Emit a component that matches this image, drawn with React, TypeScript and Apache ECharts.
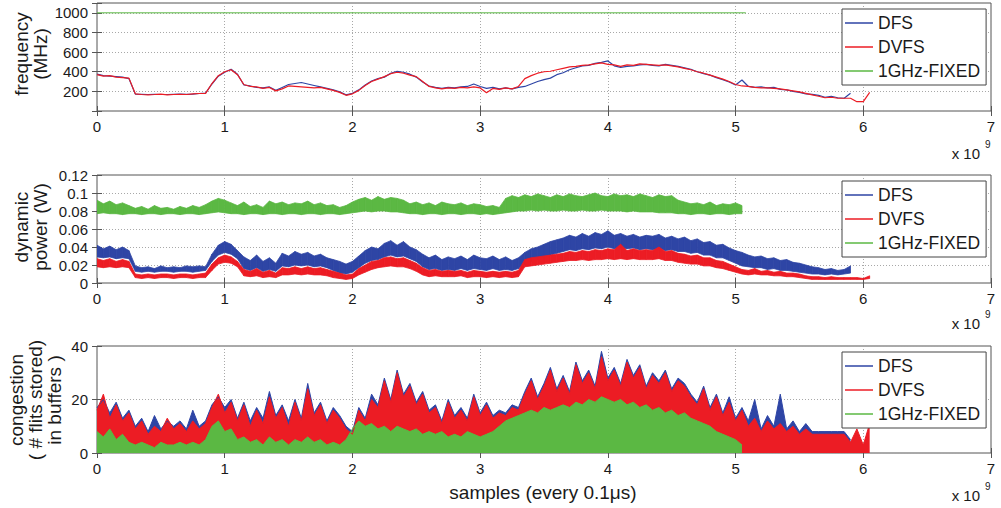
import React, { useEffect, useRef } from "react";
import * as echarts from "echarts";

// ---------- data (x in units of 1e9 samples, one value every 0.05) ----------
const STEP = 0.05;

// frequency (MHz)
const dfsFreq = [375,360,355,350,345,330,172,170,168,170,168,168,170,172,170,172,178,182,275,355,395,425,375,265,255,240,235,245,210,240,270,280,290,275,260,245,230,215,195,165,180,215,265,305,330,345,385,405,395,375,345,295,255,240,230,240,235,245,250,275,250,230,240,225,235,225,240,250,275,300,320,335,370,390,420,440,460,465,485,495,510,460,445,455,460,470,475,465,460,475,465,455,440,425,400,380,365,340,320,295,265,316,250,240,245,235,240,220,215,200,190,175,170,160,140,150,135,130,180];
const dvfsFreq = [370,355,360,345,340,335,175,168,165,168,172,165,168,170,168,175,178,180,280,360,400,420,370,270,250,245,230,240,205,225,255,250,245,240,235,240,225,210,190,160,175,210,260,300,325,350,380,395,385,365,350,300,250,235,225,235,230,240,235,245,235,185,230,220,235,225,250,330,360,385,400,405,420,435,450,455,465,470,480,490,475,470,455,470,465,480,475,470,465,470,460,450,435,420,400,385,365,345,325,300,270,255,250,240,235,235,230,225,215,205,195,180,165,150,135,140,130,130,130,95,95,190];
const fixedFreqX = [0, 5.08];
const fixedFreq = [1000, 1000];

// dynamic power (W): lower / upper edge of each noisy band
const dfsPowHi = [0.042,0.038,0.041,0.037,0.040,0.036,0.019,0.017,0.018,0.016,0.019,0.017,0.018,0.017,0.019,0.018,0.019,0.018,0.032,0.042,0.046,0.043,0.036,0.029,0.025,0.031,0.024,0.028,0.022,0.033,0.030,0.035,0.032,0.034,0.030,0.032,0.028,0.026,0.024,0.021,0.024,0.030,0.036,0.040,0.038,0.044,0.047,0.042,0.046,0.040,0.037,0.032,0.028,0.031,0.026,0.029,0.027,0.030,0.026,0.031,0.028,0.027,0.030,0.026,0.029,0.025,0.028,0.034,0.038,0.040,0.043,0.046,0.048,0.050,0.053,0.051,0.055,0.052,0.056,0.054,0.058,0.053,0.055,0.052,0.054,0.051,0.053,0.052,0.054,0.050,0.052,0.049,0.051,0.047,0.049,0.045,0.046,0.042,0.043,0.039,0.036,0.034,0.031,0.029,0.030,0.027,0.028,0.025,0.026,0.023,0.022,0.020,0.018,0.017,0.015,0.016,0.014,0.015,0.019];
const dfsPowLo = [0.029,0.028,0.029,0.027,0.028,0.027,0.013,0.012,0.013,0.012,0.013,0.013,0.012,0.013,0.013,0.012,0.013,0.014,0.024,0.031,0.034,0.032,0.027,0.016,0.014,0.017,0.013,0.015,0.013,0.019,0.018,0.020,0.019,0.020,0.018,0.019,0.017,0.014,0.011,0.010,0.012,0.017,0.022,0.025,0.026,0.029,0.031,0.029,0.030,0.027,0.024,0.018,0.015,0.016,0.014,0.015,0.014,0.016,0.014,0.016,0.015,0.014,0.016,0.014,0.015,0.014,0.016,0.021,0.024,0.026,0.028,0.031,0.033,0.035,0.037,0.036,0.038,0.037,0.039,0.038,0.040,0.038,0.039,0.038,0.039,0.037,0.038,0.037,0.038,0.036,0.037,0.035,0.035,0.033,0.034,0.031,0.031,0.028,0.028,0.025,0.022,0.019,0.018,0.017,0.017,0.015,0.016,0.014,0.014,0.013,0.012,0.011,0.010,0.010,0.009,0.010,0.009,0.010,0.011];
const dvfsPowHi = [0.027,0.025,0.027,0.024,0.026,0.024,0.010,0.009,0.010,0.009,0.010,0.010,0.009,0.010,0.010,0.009,0.010,0.011,0.021,0.028,0.031,0.029,0.024,0.015,0.013,0.016,0.012,0.014,0.011,0.017,0.016,0.018,0.016,0.018,0.016,0.017,0.015,0.013,0.011,0.009,0.010,0.016,0.020,0.024,0.025,0.028,0.029,0.027,0.028,0.025,0.022,0.017,0.014,0.015,0.013,0.014,0.013,0.014,0.012,0.014,0.013,0.012,0.013,0.012,0.013,0.012,0.014,0.026,0.028,0.029,0.030,0.031,0.032,0.033,0.035,0.034,0.036,0.035,0.037,0.036,0.038,0.037,0.043,0.036,0.038,0.036,0.037,0.036,0.040,0.035,0.036,0.033,0.032,0.030,0.031,0.028,0.028,0.025,0.024,0.021,0.018,0.015,0.014,0.016,0.013,0.014,0.012,0.013,0.011,0.011,0.010,0.008,0.007,0.007,0.006,0.007,0.006,0.006,0.006,0.006,0.005,0.008];
const dvfsPowLo = [0.018,0.017,0.018,0.017,0.018,0.017,0.006,0.005,0.006,0.005,0.006,0.006,0.005,0.006,0.006,0.005,0.006,0.006,0.014,0.021,0.023,0.022,0.018,0.008,0.007,0.008,0.006,0.007,0.006,0.009,0.009,0.010,0.009,0.010,0.009,0.009,0.008,0.006,0.005,0.004,0.005,0.009,0.012,0.015,0.017,0.018,0.019,0.018,0.018,0.016,0.013,0.009,0.007,0.008,0.007,0.007,0.007,0.008,0.006,0.007,0.007,0.006,0.007,0.006,0.007,0.006,0.007,0.018,0.019,0.020,0.021,0.022,0.023,0.024,0.025,0.025,0.026,0.025,0.026,0.026,0.027,0.026,0.027,0.026,0.027,0.026,0.026,0.026,0.027,0.025,0.025,0.023,0.022,0.021,0.021,0.019,0.019,0.017,0.016,0.014,0.012,0.010,0.009,0.010,0.009,0.009,0.008,0.008,0.007,0.007,0.006,0.005,0.004,0.004,0.004,0.004,0.004,0.004,0.004,0.004,0.004,0.005];
const fixedPowHi = [0.092,0.088,0.091,0.087,0.089,0.086,0.083,0.085,0.082,0.086,0.083,0.084,0.082,0.085,0.083,0.086,0.084,0.087,0.091,0.094,0.092,0.089,0.086,0.090,0.085,0.087,0.084,0.091,0.088,0.090,0.087,0.089,0.088,0.091,0.087,0.089,0.086,0.087,0.084,0.086,0.090,0.093,0.095,0.092,0.096,0.093,0.095,0.094,0.092,0.088,0.090,0.087,0.089,0.086,0.090,0.088,0.087,0.089,0.086,0.088,0.087,0.085,0.086,0.084,0.094,0.097,0.095,0.098,0.096,0.099,0.097,0.095,0.098,0.096,0.099,0.097,0.096,0.098,0.100,0.097,0.096,0.099,0.097,0.098,0.096,0.099,0.097,0.095,0.098,0.096,0.097,0.092,0.090,0.088,0.089,0.087,0.090,0.086,0.088,0.087,0.089,0.086];
const fixedPowLo = [0.077,0.078,0.077,0.077,0.076,0.077,0.077,0.076,0.077,0.077,0.076,0.077,0.077,0.076,0.077,0.077,0.076,0.077,0.078,0.079,0.078,0.077,0.077,0.076,0.077,0.077,0.076,0.077,0.077,0.076,0.077,0.077,0.076,0.077,0.077,0.076,0.077,0.077,0.076,0.077,0.078,0.079,0.080,0.079,0.080,0.080,0.079,0.079,0.078,0.077,0.077,0.076,0.077,0.077,0.076,0.077,0.077,0.076,0.077,0.077,0.076,0.077,0.076,0.077,0.078,0.079,0.080,0.080,0.081,0.080,0.081,0.080,0.080,0.081,0.080,0.080,0.081,0.080,0.080,0.081,0.080,0.080,0.080,0.079,0.080,0.079,0.079,0.079,0.078,0.078,0.078,0.077,0.077,0.076,0.077,0.077,0.076,0.077,0.077,0.076,0.077,0.077];

// congestion (# flits stored): upper edge of each dense trace
const dfsCong = [17,20,15,19,13,16,10,13,8,14,9,12,10,12,9,16,10,12,18,21,17,20,13,19,12,17,13,23,14,18,12,20,13,26,15,19,12,17,14,10,8,17,13,22,18,28,20,31,22,26,19,23,16,18,12,20,14,17,13,22,15,19,14,16,15,18,17,23,28,21,26,32,24,29,23,34,27,31,25,38,28,32,26,35,29,33,25,30,27,31,24,28,26,22,19,25,17,22,15,21,13,17,12,20,9,14,10,22,9,12,8,11,8,8,8,8,8,8,5];
const dvfsCong = [16,22,13,18,12,15,9,12,7,10,8,13,9,11,8,12,9,11,17,22,15,19,12,18,10,16,11,21,13,17,10,19,12,24,14,18,11,16,13,9,7,16,12,20,17,27,19,30,21,25,18,22,15,17,11,19,13,16,12,21,14,18,13,15,14,17,16,22,27,20,25,31,23,28,22,33,26,30,24,36,27,31,25,34,28,32,24,29,26,30,23,27,25,21,18,24,16,21,14,19,12,16,10,13,8,12,9,11,8,10,7,9,7,7,7,7,7,7,4,9,3,11];
const fixedCong = [8,6,9,5,7,4,3,4,3,2,4,3,3,4,3,4,3,5,10,12,8,9,5,6,4,5,3,6,4,5,3,5,4,6,4,5,3,4,3,5,9,12,10,11,9,10,8,10,9,8,9,7,8,7,8,6,7,6,8,7,6,7,8,10,12,13,14,15,16,15,17,16,17,18,17,19,18,20,19,21,20,19,20,18,19,17,18,16,17,15,16,14,15,13,12,11,10,8,7,6,5,3];

const legendNames = ["DFS", "DVFS", "1GHz-FIXED"];
const yNames = ["frequency\n(MHz)", "dynamic\npower (W)", "congestion\n( # flits stored)\nin buffers )"];
const xName = "samples (every 0.1\u03bcs)";

// ---------- styling ----------
const BLUE = "#2e45a5";
const RED = "#ec1c24";
const GREEN = "#5bb843";
const TXT = "#1a1a1a";
const FONT = "'Liberation Sans', Arial, Helvetica, sans-serif";

const xAt = (i: number) => Math.round(i * STEP * 1000) / 1000;
const pairs = (vals: number[]) => vals.map((v, i) => [xAt(i), v]);

const GRIDS = [
  { top: 3, height: 108 },
  { top: 175, height: 108 },
  { top: 346, height: 107 },
];

export default function App() {
  const ref = useRef<HTMLDivElement>(null);
  useEffect(() => {
    if (!ref.current) return;
    const chart = echarts.init(ref.current, undefined, { renderer: "svg" });

    const yRanges = [
      { min: 0, max: 1100, interval: 200, fmt: (v: number) => (v === 0 || v > 1000 ? "" : String(v)) },
      { min: 0, max: 0.12, interval: 0.02, fmt: (v: number) => String(parseFloat(v.toFixed(3))) },
      { min: 0, max: 40, interval: 20, fmt: (v: number) => String(v) },
    ];

    const splitLine = { show: true, lineStyle: { color: "#a8a8a8", type: [1, 2], width: 1 } };
    const tick = { show: true, inside: true, length: 5, lineStyle: { color: "#555" } };

    const xAxis: any[] = [];
    const yAxis: any[] = [];
    GRIDS.forEach((_, g) => {
      xAxis.push({
        type: "value", gridIndex: g, min: 0, max: 7, interval: 1, position: "bottom",
        axisLine: { show: false }, axisTick: tick, splitLine,
        axisLabel: { fontSize: 15, color: TXT, fontFamily: FONT, margin: 8 },
      });
      yAxis.push({
        type: "value", gridIndex: g, min: yRanges[g].min, max: yRanges[g].max, interval: yRanges[g].interval,
        position: "left", axisLine: { show: false }, axisTick: tick, splitLine,
        axisLabel: { fontSize: 15, color: TXT, fontFamily: FONT, margin: 9, formatter: yRanges[g].fmt },
      });
    });
    GRIDS.forEach((_, g) => {
      xAxis.push({
        type: "value", gridIndex: g, min: 0, max: 7, interval: 1, position: "top",
        axisLine: { show: false }, axisTick: tick, splitLine: { show: false }, axisLabel: { show: false },
      });
      yAxis.push({
        type: "value", gridIndex: g, min: yRanges[g].min, max: yRanges[g].max, interval: yRanges[g].interval,
        position: "right", axisLine: { show: false }, axisTick: tick, splitLine: { show: false }, axisLabel: { show: false },
      });
    });

    const line = (name: string, color: string, data: any[], g: number, width = 1.2) => ({
      name, type: "line", xAxisIndex: g, yAxisIndex: g, data, symbol: "none", showSymbol: false,
      itemStyle: { color }, lineStyle: { color, width }, silent: true,
    });

    // a noisy band between a lower and an upper edge, drawn as polygons through the axes' scales
    const band = (name: string, color: string, lo: number[], hi: number[], g: number) => ({
      name, type: "custom", xAxisIndex: g, yAxisIndex: g, silent: true, clip: true,
      itemStyle: { color },
      data: lo.map((l, i) => [xAt(i), l, hi[i]]),
      encode: { x: 0, y: [1, 2] },
      renderItem: (params: any, api: any) => {
        const i = params.dataIndex;
        if (i >= lo.length - 1) return { type: "group", children: [] };
        const x0 = xAt(i);
        const x1 = xAt(i + 1);
        const pts = [
          api.coord([x0, lo[i]]),
          api.coord([x0, hi[i]]),
          api.coord([x1, hi[i + 1]]),
          api.coord([x1, lo[i + 1]]),
        ];
        return { type: "polygon", shape: { points: pts }, style: { fill: color, stroke: color, lineWidth: 0.8 } };
      },
    });

    const area = (name: string, color: string, vals: number[], g: number) => ({
      name, type: "line", xAxisIndex: g, yAxisIndex: g, data: pairs(vals), symbol: "none", showSymbol: false,
      itemStyle: { color }, lineStyle: { color, width: 1 }, areaStyle: { color, opacity: 1 }, silent: true,
    });

    const series: any[] = [
      line("DFS", BLUE, pairs(dfsFreq), 0),
      line("DVFS", RED, pairs(dvfsFreq), 0),
      line("1GHz-FIXED", GREEN, fixedFreqX.map((x, i) => [x, fixedFreq[i]]), 0, 1),
      band("DFS", BLUE, dfsPowLo, dfsPowHi, 1),
      band("DVFS", RED, dvfsPowLo, dvfsPowHi, 1),
      band("1GHz-FIXED", GREEN, fixedPowLo, fixedPowHi, 1),
      area("DFS", BLUE, dfsCong, 2),
      area("DVFS", RED, dvfsCong, 2),
      area("1GHz-FIXED", GREEN, fixedCong, 2),
    ];

    const legendTops = [9, 181, 352];
    const legend = legendTops.map((top) => ({
      data: legendNames, orient: "vertical", left: 842, top, icon: "rect", itemWidth: 28, itemHeight: 1.5,
      itemGap: 4, padding: [4, 6, 4, 3], backgroundColor: "#fff", borderColor: "#444", borderWidth: 1,
      borderRadius: 0, selectedMode: false,
      textStyle: { fontSize: 17.5, color: TXT, fontFamily: FONT, lineHeight: 20, padding: [0, 0, 0, 0] },
    }));

    const yNameCenters = [
      { x: 31, y: 54 },
      { x: 31, y: 227 },
      { x: 35, y: 400 },
    ];
    const xPowerTops = [153, 323, 495];
    const graphic: any[] = [];
    yNames.forEach((t, g) => {
      graphic.push({
        type: "text", x: yNameCenters[g].x, y: yNameCenters[g].y, rotation: Math.PI / 2, silent: true,
        style: { text: t, fontSize: 19, fontFamily: FONT, fill: TXT, align: "center", verticalAlign: "middle", lineHeight: 19 },
      });
    });
    xPowerTops.forEach((y) => {
      graphic.push({
        type: "text", x: 980, y, silent: true,
        style: { text: "x 10", fontSize: 15, fontFamily: FONT, fill: TXT, align: "right", verticalAlign: "middle" },
      });
      graphic.push({
        type: "text", x: 985, y: y - 9, silent: true,
        style: { text: "9", fontSize: 10, fontFamily: FONT, fill: TXT, align: "left", verticalAlign: "middle" },
      });
    });
    graphic.push({
      type: "text", x: 543, y: 492, silent: true,
      style: { text: xName, fontSize: 19, fontFamily: FONT, fill: TXT, align: "center", verticalAlign: "middle" },
    });

    chart.setOption({
      animation: false,
      backgroundColor: "#fff",
      grid: GRIDS.map((g) => ({
        left: 97, right: 10, top: g.top, height: g.height, show: true,
        borderColor: "#555", borderWidth: 1, backgroundColor: "#fff", containLabel: false,
      })),
      xAxis, yAxis, series, legend, graphic,
    });
    return () => chart.dispose();
  }, []);

  return <div ref={ref} style={{ position: "fixed", left: 0, top: 0, width: 1001, height: 508 }} />;
}
